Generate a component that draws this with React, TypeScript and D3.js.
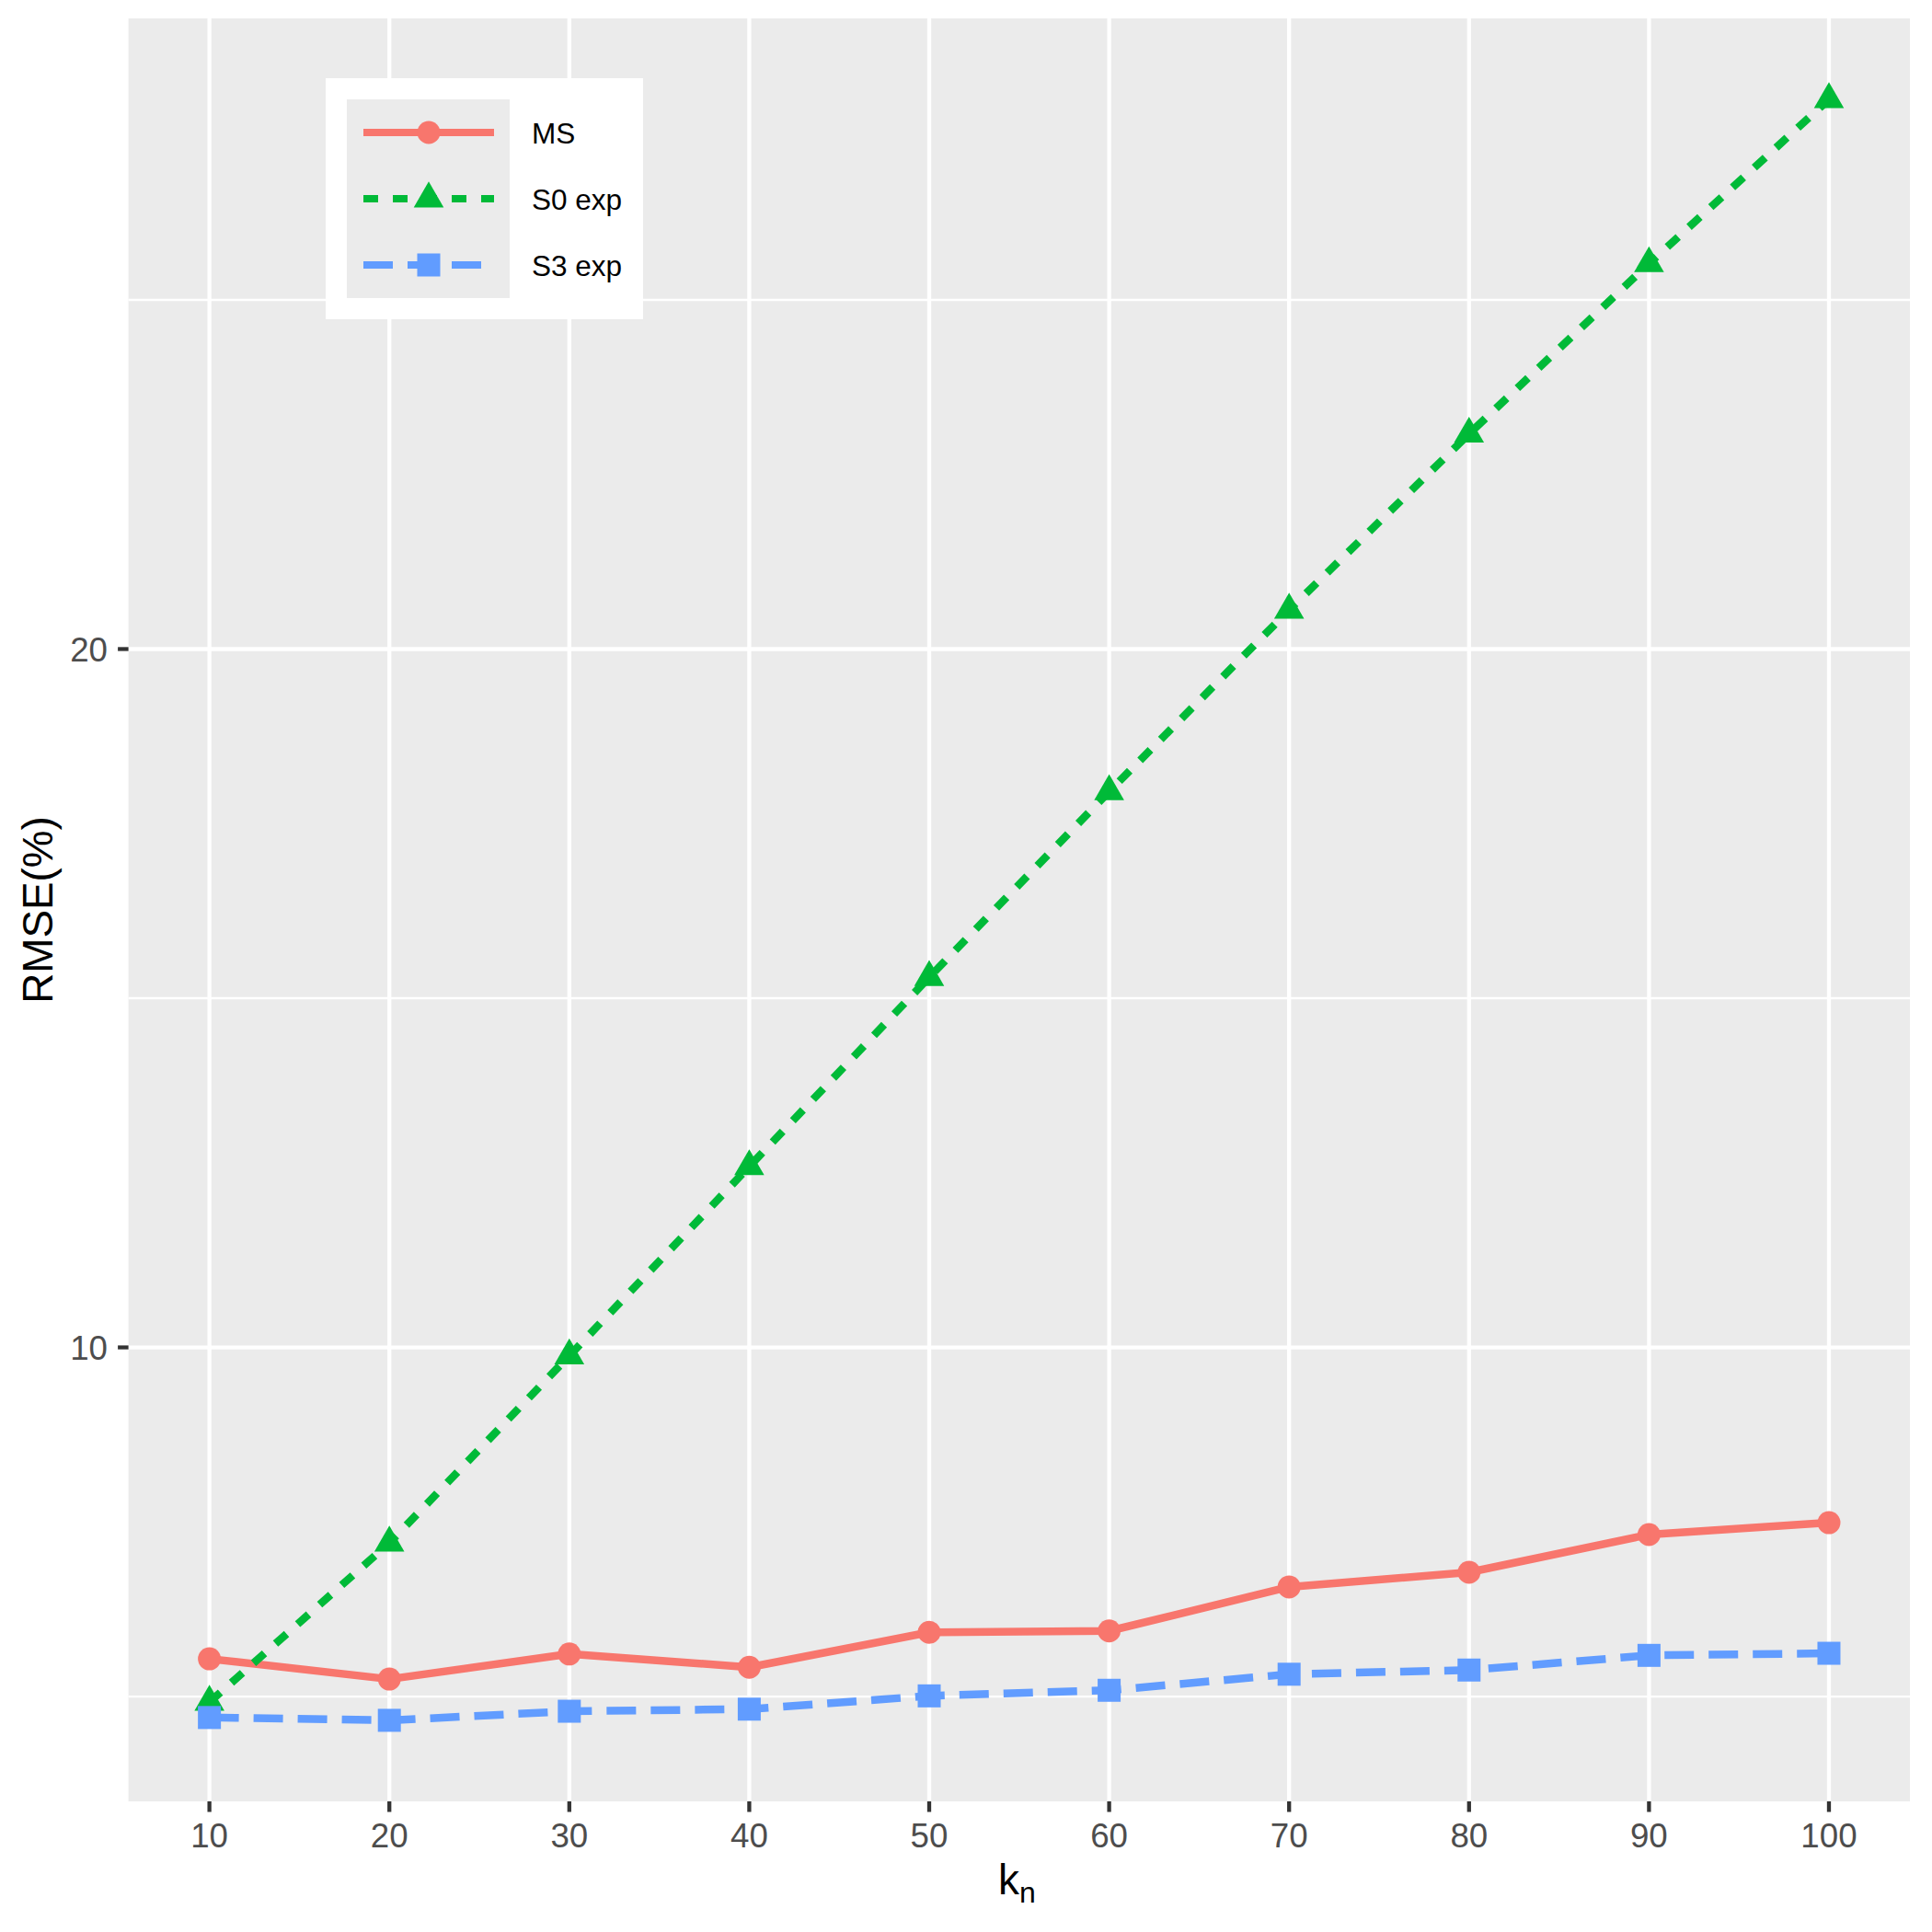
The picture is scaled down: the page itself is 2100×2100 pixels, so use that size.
import React from "react";
import * as d3 from "d3";

const kn = [10, 20, 30, 40, 50, 60, 70, 80, 90, 100];
const msValues = [5.54, 5.25, 5.61, 5.42, 5.92, 5.94, 6.57, 6.78, 7.32, 7.49];
const s0Values = [4.92, 7.2, 9.88, 12.59, 15.3, 17.96, 20.56, 23.08, 25.52, 27.87];
const s3Values = [4.7, 4.66, 4.79, 4.82, 5.01, 5.09, 5.32, 5.38, 5.59, 5.62];
const seriesNames = ["MS", "S0 exp", "S3 exp"];
const seriesColors = ["#F8766D", "#00BA38", "#619CFF"];
const xTicks = [10, 20, 30, 40, 50, 60, 70, 80, 90, 100];
const yMajor = [10, 20];
const yMinor = [5, 15, 25];

const FONT = "'Liberation Sans', Arial, Helvetica, sans-serif";

const W = 2100;
const H = 2100;
const panel = { left: 139.6, right: 2076, top: 20, bottom: 1958 };

function trianglePath(cx: number, cy: number, r: number) {
  const xc = (r * Math.sqrt(3)) / 2;
  const yc = r / 2;
  return `M${cx},${cy - r}L${cx + xc},${cy + yc}L${cx - xc},${cy + yc}Z`;
}

function Marker({ shape, x, y, color }: { shape: number; x: number; y: number; color: string }) {
  if (shape === 0) return <circle cx={x} cy={y} r={12.5} fill={color} />;
  if (shape === 1) return <path d={trianglePath(x, y, 18.8)} fill={color} />;
  return <rect x={x - 12.5} y={y - 12.5} width={25} height={25} fill={color} />;
}

export default function App() {
  const all = [...msValues, ...s0Values, ...s3Values];
  const ymin = d3.min(all)!;
  const ymax = d3.max(all)!;
  const span = ymax - ymin;
  const xs = d3
    .scaleLinear()
    .domain([10 - 0.05 * 90, 100 + 0.05 * 90])
    .range([panel.left, panel.right]);
  const ys = d3
    .scaleLinear()
    .domain([ymin - 0.05 * span, ymax + 0.05 * span])
    .range([panel.bottom, panel.top]);

  const series = [msValues, s0Values, s3Values];
  const dashes = [undefined, "16,16", "32,16"];
  const line = d3
    .line<number>()
    .x((_, i) => xs(kn[i]))
    .y((d) => ys(d));

  const legRows = [144, 216, 288];

  return (
    <svg
      width={W}
      height={H}
      style={{ position: "absolute", left: 0, top: 0, background: "#fff" }}
      fontFamily={FONT}
    >
      <rect x={0} y={0} width={W} height={H} fill="#fff" />
      <rect
        x={panel.left}
        y={panel.top}
        width={panel.right - panel.left}
        height={panel.bottom - panel.top}
        fill="#EBEBEB"
      />
      {yMinor.map((v) => (
        <line key={"ym" + v} x1={panel.left} x2={panel.right} y1={ys(v)} y2={ys(v)} stroke="#fff" strokeWidth={2.4} />
      ))}
      {yMajor.map((v) => (
        <line key={"yM" + v} x1={panel.left} x2={panel.right} y1={ys(v)} y2={ys(v)} stroke="#fff" strokeWidth={4.3} />
      ))}
      {xTicks.map((v) => (
        <line key={"xM" + v} x1={xs(v)} x2={xs(v)} y1={panel.top} y2={panel.bottom} stroke="#fff" strokeWidth={4.3} />
      ))}

      {series.map((s, i) => (
        <path
          key={"l" + i}
          d={line(s)!}
          fill="none"
          stroke={seriesColors[i]}
          strokeWidth={8.5}
          strokeDasharray={dashes[i]}
          strokeLinejoin="round"
        />
      ))}
      {series.map((s, i) =>
        s.map((v, j) => <Marker key={`p${i}-${j}`} shape={i} x={xs(kn[j])} y={ys(v)} color={seriesColors[i]} />)
      )}

      {/* axes ticks */}
      {xTicks.map((v) => (
        <g key={"xt" + v}>
          <line x1={xs(v)} x2={xs(v)} y1={panel.bottom} y2={panel.bottom + 11.5} stroke="#333" strokeWidth={4.3} />
          <text x={xs(v)} y={2008} textAnchor="middle" fontSize={36.7} fill="#4D4D4D">
            {v}
          </text>
        </g>
      ))}
      {yMajor.map((v) => (
        <g key={"yt" + v}>
          <line x1={panel.left - 11.5} x2={panel.left} y1={ys(v)} y2={ys(v)} stroke="#333" strokeWidth={4.3} />
          <text x={117} y={ys(v) + 13.2} textAnchor="end" fontSize={36.7} fill="#4D4D4D">
            {v}
          </text>
        </g>
      ))}

      {/* axis titles */}
      <text x={1085} y={2059} fontSize={45.8} fill="#000">
        k
        <tspan fontSize={32} dy={9}>
          n
        </tspan>
      </text>
      <text
        transform={`translate(57, ${(panel.top + panel.bottom) / 2}) rotate(-90)`}
        textAnchor="middle"
        fontSize={45.8}
        fill="#000"
      >
        RMSE(%)
      </text>

      {/* legend */}
      <rect x={354} y={85} width={345} height={262} fill="#fff" />
      <rect x={377} y={108} width={177} height={216} fill="#EBEBEB" />
      {seriesNames.map((name, i) => (
        <g key={"lg" + i}>
          <line
            x1={395}
            x2={537}
            y1={legRows[i]}
            y2={legRows[i]}
            stroke={seriesColors[i]}
            strokeWidth={8}
            strokeDasharray={dashes[i]}
          />
          <Marker shape={i} x={466} y={legRows[i]} color={seriesColors[i]} />
          <text x={578} y={legRows[i] + 12} fontSize={31.5} fill="#000">
            {name}
          </text>
        </g>
      ))}
    </svg>
  );
}
